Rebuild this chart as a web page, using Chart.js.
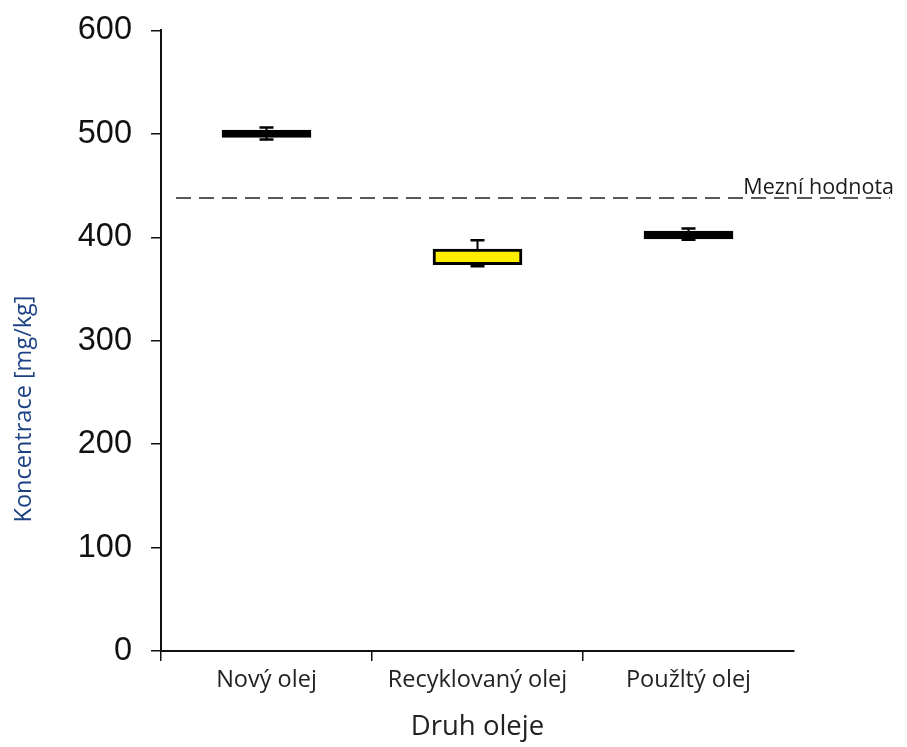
<!DOCTYPE html>
<html lang="cs">
<head>
<meta charset="utf-8">
<title>Koncentrace podle druhu oleje</title>
<script src="https://cdn.jsdelivr.net/npm/chart.js@4.4.1/dist/chart.umd.min.js"></script>
<style>
  html, body { margin: 0; padding: 0; background: #ffffff; }
  #wrap { width: 907px; height: 747px; }
</style>
</head>
<body>
<div id="wrap"><canvas id="chart" width="907" height="747"></canvas></div>
<script>
// Kategorie a hodnoty krabicových grafů (mg/kg)
const categories   = ['Nový olej', 'Recyklovaný olej', 'Použltý olej'];
const whiskerLow   = [494.5, 372, 397.5];
const boxLow       = [496.5, 373.5, 398.5];
const medians      = [500, 375, 402];
const boxHigh      = [503.5, 388.5, 406];
const whiskerHigh  = [506, 397, 408.5];
const boxFill      = ['#000000', '#ffee00', '#000000'];

// Mezní hodnota
const limitValue = 438;
const limitText  = 'Mezní hodnota';

// Osy
const yMin = 0, yMax = 600, yStep = 100;
const yTitle = 'Koncentrace [mg/kg]';
const xTitle = 'Druh oleje';

// Vousy a medián krabicových grafů
const boxPlotParts = {
  id: 'boxPlotParts',
  beforeDatasetsDraw(chart) {
    const ctx = chart.ctx, x = chart.scales.x, y = chart.scales.y;
    ctx.save();
    ctx.strokeStyle = '#000';
    categories.forEach((c, i) => {
      const cx = x.getPixelForValue(i);
      const yLo = y.getPixelForValue(whiskerLow[i]);
      const yHi = y.getPixelForValue(whiskerHigh[i]);
      ctx.lineWidth = 2;
      ctx.beginPath();
      ctx.moveTo(cx, yLo); ctx.lineTo(cx, yHi);
      ctx.stroke();
      ctx.lineWidth = 2.5;
      ctx.beginPath();
      ctx.moveTo(cx - 7, yLo); ctx.lineTo(cx + 7, yLo);
      ctx.moveTo(cx - 7, yHi); ctx.lineTo(cx + 7, yHi);
      ctx.stroke();
    });
    ctx.restore();
  },
  afterDatasetsDraw(chart) {
    const ctx = chart.ctx, y = chart.scales.y;
    const meta = chart.getDatasetMeta(0);
    ctx.save();
    ctx.strokeStyle = '#000';
    ctx.lineWidth = 2;
    categories.forEach((c, i) => {
      const bar = meta.data[i];
      const half = bar.width / 2;
      const ym = y.getPixelForValue(medians[i]);
      ctx.beginPath();
      ctx.moveTo(bar.x - half + 2, ym); ctx.lineTo(bar.x + half - 2, ym);
      ctx.stroke();
    });
    ctx.restore();
  }
};

// Čárkovaná čára mezní hodnoty, popisek a název osy y
const annotations = {
  id: 'annotations',
  afterDraw(chart) {
    const ctx = chart.ctx, y = chart.scales.y, area = chart.chartArea;
    const yl = y.getPixelForValue(limitValue);
    const x0 = area.left + 15, x1 = chart.width - 17;
    ctx.save();
    ctx.strokeStyle = '#222';
    ctx.lineWidth = 1.5;
    ctx.setLineDash([15, 8]);
    ctx.beginPath();
    ctx.moveTo(x0, yl); ctx.lineTo(x1, yl);
    ctx.stroke();
    ctx.setLineDash([]);

    ctx.fillStyle = '#1b1b1b';
    ctx.font = '21.5px "Open Sans"';
    ctx.textAlign = 'right';
    ctx.textBaseline = 'alphabetic';
    ctx.fillText(limitText, x1 + 4, yl - 4);

    ctx.translate(24, area.top + (area.bottom - area.top) * 0.61);
    ctx.rotate(-Math.PI / 2);
    ctx.fillStyle = '#1c4283';
    ctx.font = '23.5px "Open Sans"';
    ctx.textAlign = 'center';
    ctx.textBaseline = 'middle';
    ctx.fillText(yTitle, 0, 0);
    ctx.restore();
  }
};

new Chart(document.getElementById('chart'), {
  type: 'bar',
  data: {
    labels: categories,
    datasets: [{
      data: categories.map((c, i) => [boxLow[i], boxHigh[i]]),
      backgroundColor: boxFill,
      borderColor: '#000',
      borderWidth: 3,
      borderSkipped: false,
      barThickness: 89
    }]
  },
  options: {
    responsive: false,
    animation: false,
    events: [],
    layout: { padding: { left: 0, right: 113, top: 26, bottom: 0 } },
    plugins: { legend: { display: false }, tooltip: { enabled: false } },
    scales: {
      x: {
        type: 'category',
        afterFit(scale) { scale.height = 96; },
        border: { display: true, color: '#111', width: 2 },
        grid: {
          offset: true,
          drawOnChartArea: false,
          drawTicks: true,
          tickLength: 10,
          lineWidth: 1.5,
          // tick marks only at the category boundaries left of each label
          color: ctx => (ctx.type === 'tick' ? '#111' : 'rgba(0,0,0,0)')
        },
        ticks: {
          color: '#222',
          font: { family: '"Open Sans"', size: 23.5 },
          padding: 5,
          maxRotation: 0
        },
        title: {
          display: true,
          text: xTitle,
          color: '#222',
          font: { family: '"Open Sans"', size: 27.5 },
          padding: { top: 0, bottom: 3 }
        }
      },
      y: {
        min: yMin,
        max: yMax,
        afterFit(scale) { scale.width = 161; },
        border: { display: true, color: '#111', width: 2 },
        grid: {
          drawOnChartArea: false,
          drawTicks: true,
          tickLength: 10,
          lineWidth: 1.5,
          color: '#111'
        },
        ticks: {
          stepSize: yStep,
          color: '#111',
          font: { family: '"Liberation Sans"', size: 32.5, lineHeight: 0.7 },
          padding: 19
        }
      }
    }
  },
  plugins: [boxPlotParts, annotations]
});
</script>
</body>
</html>
